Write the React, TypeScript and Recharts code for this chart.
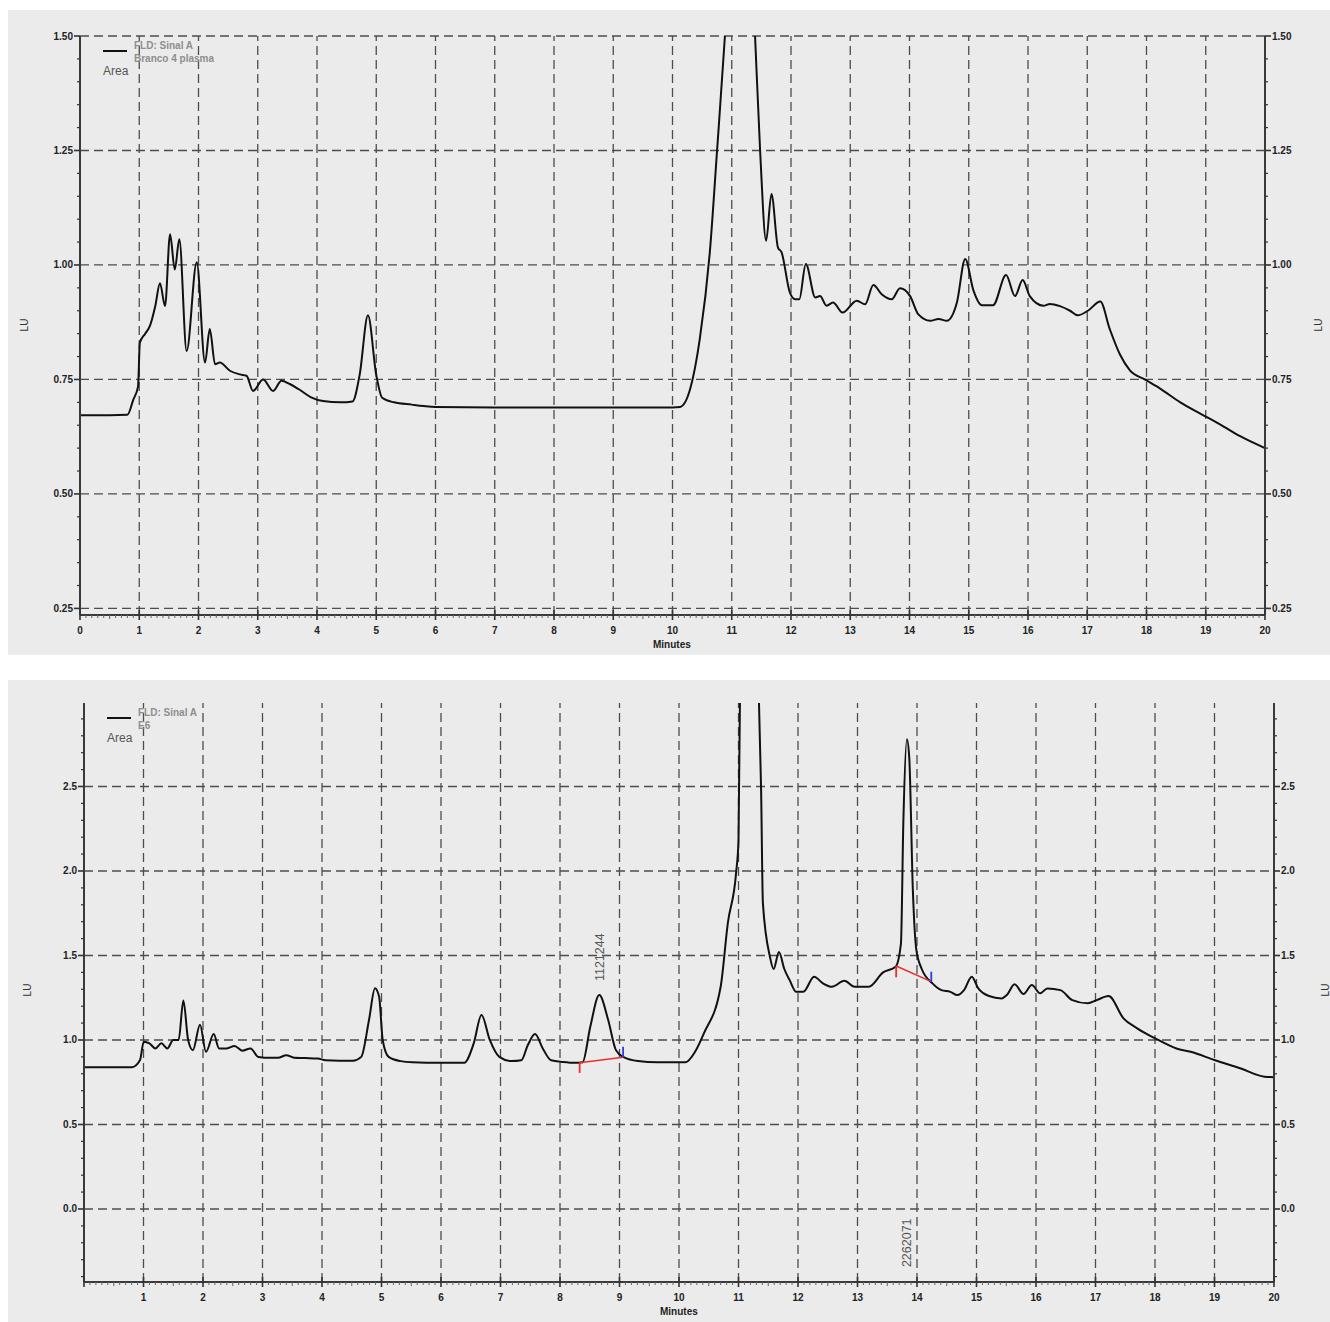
import { LineChart, Line, XAxis, YAxis, ReferenceLine, ReferenceDot } from 'recharts'

// Chromatogram 1: "Branco 4 plasma"
const topMinutes = [
  0, 0.5, 0.8, 0.9, 0.98, 1.01, 1.1, 1.18, 1.27, 1.35, 1.435, 1.52, 1.6, 1.676, 1.8, 1.97,
  2.11, 2.19, 2.28, 2.36, 2.53, 2.7, 2.81, 2.92, 3.09, 3.26, 3.4, 3.54, 3.7, 3.9, 4.1, 4.4,
  4.6, 4.72, 4.86, 5.0, 5.1, 5.3, 5.6, 5.8, 6.0, 7.0, 8.0, 9.0, 10.0, 10.13, 10.3, 10.46,
  10.63, 10.75, 10.89, 11.0, 11.15, 11.3, 11.39, 11.48, 11.58, 11.67, 11.78, 11.84, 11.98,
  12.07, 12.14, 12.25, 12.41, 12.49, 12.6, 12.71, 12.87, 13.11, 13.25, 13.39, 13.53, 13.7,
  13.84, 14.01, 14.15, 14.35, 14.49, 14.63, 14.8, 14.94, 15.08, 15.22, 15.41, 15.63, 15.78,
  15.91, 16.03, 16.26, 16.37, 16.54, 16.71, 16.84, 17.01, 17.22, 17.38, 17.55, 17.72, 17.97,
  18.23, 18.57, 18.9, 19.24, 19.58, 20.0,
]
const topLU = [
  0.672, 0.672, 0.673, 0.706, 0.735, 0.83, 0.85, 0.867, 0.91, 0.96, 0.91, 1.067, 0.99, 1.056, 0.812, 1.006,
  0.787, 0.86, 0.783, 0.787, 0.769, 0.761, 0.758, 0.725, 0.75, 0.725, 0.747, 0.74, 0.728, 0.711, 0.703, 0.7,
  0.702, 0.76, 0.89, 0.76, 0.71, 0.7, 0.695, 0.692, 0.69, 0.689, 0.689, 0.689, 0.689, 0.69, 0.73, 0.838,
  1.028, 1.246, 1.51, 1.75, 1.85, 1.75, 1.51, 1.246, 1.053, 1.155, 1.038, 1.028, 0.94,
  0.925, 0.925, 1.002, 0.929, 0.932, 0.911, 0.918, 0.896, 0.922, 0.914, 0.956, 0.936, 0.925,
  0.949, 0.932, 0.892, 0.878, 0.882, 0.878, 0.918, 1.013, 0.944, 0.912, 0.912, 0.978, 0.932,
  0.967, 0.932, 0.911, 0.915, 0.91, 0.9, 0.89, 0.9, 0.92, 0.86, 0.805, 0.77, 0.75,
  0.73, 0.7, 0.676, 0.652, 0.626, 0.6,
]

// Chromatogram 2: "E6"
const bottomMinutes = [
  0, 0.8, 0.94, 1.005, 1.1, 1.2, 1.3, 1.4, 1.5, 1.59, 1.67, 1.75, 1.83, 1.95, 2.05, 2.18,
  2.27, 2.4, 2.53, 2.66, 2.8, 2.93, 3.13, 3.26, 3.4, 3.53, 3.73, 3.93, 4.06, 4.52, 4.66,
  4.79, 4.89, 4.96, 5.02, 5.12, 5.32, 5.52, 5.99, 6.39, 6.55, 6.68, 6.82, 6.98, 7.18, 7.35,
  7.46, 7.58, 7.71, 7.85, 8.05, 8.25, 8.38, 8.51, 8.66, 8.81, 8.94, 9.07, 9.31, 9.64, 10.11,
  10.27, 10.42, 10.7, 10.82, 10.96, 11.0, 11.03, 11.18, 11.33, 11.38, 11.41, 11.53, 11.59,
  11.68, 11.77, 11.86, 11.97, 12.09, 12.27, 12.42, 12.57, 12.78, 12.95, 13.19, 13.43, 13.64,
  13.73, 13.77, 13.83, 13.87, 13.93, 13.99, 14.08, 14.26, 14.41, 14.56, 14.68, 14.79, 14.92,
  15.03, 15.21, 15.42, 15.51, 15.64, 15.79, 15.93, 16.07, 16.19, 16.41, 16.61, 16.87, 17.02,
  17.22, 17.47, 17.7, 18.0, 18.36, 18.6, 19.01, 19.43, 19.84, 20.0,
]
const bottomLU = [
  0.838, 0.838, 0.88, 0.99, 0.98, 0.95, 0.98, 0.95, 1.0, 1.0, 1.233, 1.0, 0.94, 1.09, 0.93, 1.035,
  0.95, 0.95, 0.965, 0.937, 0.95, 0.9, 0.895, 0.895, 0.91, 0.895, 0.893, 0.89, 0.88, 0.877, 0.9,
  1.118, 1.306, 1.256, 1.0, 0.9, 0.875, 0.868, 0.865, 0.865, 0.98, 1.148, 1.0, 0.9, 0.875, 0.88,
  0.97, 1.035, 0.95, 0.88, 0.87, 0.865, 0.868, 1.08, 1.266, 1.118, 0.94, 0.898, 0.875, 0.868, 0.868,
  0.93, 1.04, 1.315, 1.69, 1.99, 2.18, 3.2, 3.9, 3.2, 2.48, 1.81, 1.49, 1.42,
  1.52, 1.42, 1.354, 1.285, 1.285, 1.374, 1.335, 1.315, 1.35, 1.315, 1.315, 1.4, 1.433,
  1.57, 2.28, 2.78, 2.67, 1.89, 1.53, 1.42, 1.335, 1.295, 1.285, 1.266, 1.295, 1.374,
  1.305, 1.26, 1.246, 1.266, 1.33, 1.272, 1.325, 1.276, 1.305, 1.295, 1.236, 1.217, 1.236,
  1.26, 1.128, 1.069, 1.01, 0.95, 0.93, 0.88, 0.833, 0.783, 0.78,
]

const minuteTicks = [0, 1, 2, 3, 4, 5, 6, 7, 8, 9, 10, 11, 12, 13, 14, 15, 16, 17, 18, 19, 20]
const gridMinutes = minuteTicks.slice(1, -1)
const topLUTicks = [0.25, 0.5, 0.75, 1.0, 1.25, 1.5]
const bottomLUTicks = [0.0, 0.5, 1.0, 1.5, 2.0, 2.5]

// integrated peaks (baseline start/end) and area labels
const peakLabels = ['1121244', '2262071']
const peak1Base = [{ x: 8.33, y: 0.866 }, { x: 9.06, y: 0.898 }]
const peak2Base = [{ x: 13.65, y: 1.438 }, { x: 14.24, y: 1.345 }]

const topData = topMinutes.map((t, i) => ({ t, lu: topLU[i] }))
const bottomData = bottomMinutes.map((t, i) => ({ t, lu: bottomLU[i] }))

function steps(from: number, to: number, step: number) {
  const out: number[] = []
  const n = Math.round((to - from) / step)
  for (let i = 0; i <= n; i++) out.push(Math.round((from + i * step) * 1000) / 1000)
  return out
}

const minuteAllTicks = steps(0, 20, 0.1)
const topLUAll = steps(0.25, 1.5, 0.05)
const bottomLUAll = steps(-0.4, 2.9, 0.1)

const FONT = '"Liberation Sans", Arial, sans-serif'
const GRID = { stroke: '#4d4d4d', strokeWidth: 1.3, strokeDasharray: '9 5' }
const AXIS = { stroke: '#3a3a3a', strokeWidth: 2 }

function MinuteTick(props: any) {
  const { x, y, payload, hideZero } = props
  const v = payload.value
  const major = Math.abs(v - Math.round(v)) < 1e-6
  const half = !major && Math.abs(v * 2 - Math.round(v * 2)) < 1e-6
  if (major) {
    return (
      <g>
        <line x1={x} x2={x} y1={y - 5} y2={y + 5} stroke="#333" strokeWidth={1.6} />
        {!(hideZero && v === 0) && (
          <text x={x} y={y + 19} textAnchor="middle" fontFamily={FONT} fontSize={10} fontWeight="bold" fill="#222">
            {Math.round(v)}
          </text>
        )}
      </g>
    )
  }
  return <line x1={x} x2={x} y1={y} y2={y + (half ? 4 : 3)} stroke="#666" strokeWidth={1} />
}

function LUTick(props: any) {
  const { x, y, payload, side, majors, digits } = props
  const v = payload.value
  const major = majors.some((m: number) => Math.abs(m - v) < 1e-6)
  const s = side === 'left' ? -1 : 1
  return (
    <g>
      <line x1={x} x2={x + s * (major ? 6 : 3)} y1={y} y2={y} stroke="#333" strokeWidth={major ? 1.6 : 1.2} />
      {major && (
        <text x={x + s * 7} y={y + 3.5} textAnchor={side === 'left' ? 'end' : 'start'}
          fontFamily={FONT} fontSize={10} fontWeight="bold" fill="#222">
          {v.toFixed(digits)}
        </text>
      )}
    </g>
  )
}

function AreaLabel(props: any) {
  const { cx, cy, text } = props
  return (
    <text transform={`translate(${cx + 4.5},${cy}) rotate(-90)`} textAnchor="middle"
      fontFamily={FONT} fontSize={12.5} fill="#555">
      {text}
    </text>
  )
}

function Overlay({ left, top, children, style }: any) {
  return (
    <div style={{ position: 'absolute', left, top, fontFamily: FONT, whiteSpace: 'nowrap', lineHeight: 1, ...style }}>
      {children}
    </div>
  )
}

function Legend({ x, y, name }: { x: number; y: number; name: string }) {
  return (
    <>
      <div style={{ position: 'absolute', left: x, top: y, width: 24, height: 1.6, background: '#111' }} />
      <Overlay left={x + 31} top={y - 11} style={{ fontSize: 10, fontWeight: 'bold', color: '#8e8e8e', lineHeight: '13px' }}>
        FLD: Sinal A<br />{name}
      </Overlay>
      <Overlay left={x} top={y + 15} style={{ fontSize: 12, color: '#555' }}>Area</Overlay>
    </>
  )
}

function RotatedLU({ left, top }: { left: number; top: number }) {
  return (
    <Overlay left={left} top={top} style={{ fontSize: 10, color: '#333', transform: 'rotate(-90deg)', transformOrigin: 'center' }}>
      LU
    </Overlay>
  )
}

export default function App() {
  return (
    <div style={{ position: 'absolute', left: 0, top: 0, width: 1330, height: 1322, background: '#fff', overflow: 'hidden' }}>
      {/* Top chromatogram */}
      <div style={{ position: 'absolute', left: 8, top: 10, width: 1322, height: 645, background: '#ebebeb' }}>
        <LineChart width={1322} height={645} data={topData} margin={{ top: 26, right: 0, bottom: 0, left: 0 }}>
          <XAxis xAxisId="top" orientation="top" type="number" dataKey="t" domain={[0, 20]} height={0}
            tick={false} tickLine={false} axisLine={{ stroke: '#9a9a9a', strokeWidth: 1.5 }} />
          <XAxis type="number" dataKey="t" domain={[0, 20]} ticks={minuteAllTicks} interval={0} height={40}
            tickSize={0} tickMargin={0} tickLine={false} axisLine={AXIS} tick={<MinuteTick />} />
          <YAxis yAxisId="left" type="number" domain={[0.2356, 1.5]} allowDataOverflow width={72}
            ticks={topLUAll} interval={0} tickSize={0} tickMargin={0} tickLine={false} axisLine={AXIS}
            tick={<LUTick side="left" majors={topLUTicks} digits={2} />} />
          <YAxis yAxisId="right" orientation="right" type="number" domain={[0.2356, 1.5]} allowDataOverflow width={65}
            ticks={topLUAll} interval={0} tickSize={0} tickMargin={0} tickLine={false} axisLine={AXIS}
            tick={<LUTick side="right" majors={topLUTicks} digits={2} />} />
          {topLUTicks.map((v) => (
            <ReferenceLine key={`h${v}`} yAxisId="left" y={v} {...GRID} />
          ))}
          {gridMinutes.map((m) => (
            <ReferenceLine key={`v${m}`} yAxisId="left" x={m} {...GRID} />
          ))}
          <Line yAxisId="left" type="monotone" dataKey="lu" stroke="#111" strokeWidth={2} dot={false} isAnimationActive={false} />
        </LineChart>
      </div>
      <Legend x={103} y={50} name="Branco 4 plasma" />
      <RotatedLU left={19} top={320} />
      <RotatedLU left={1313} top={320} />
      <Overlay left={653} top={640} style={{ fontSize: 10, fontWeight: 'bold', color: '#222' }}>Minutes</Overlay>

      {/* Bottom chromatogram */}
      <div style={{ position: 'absolute', left: 8, top: 680, width: 1322, height: 642, background: '#ebebeb' }}>
        <LineChart width={1322} height={642} data={bottomData} margin={{ top: 23, right: 0, bottom: 0, left: 0 }}>
          <XAxis xAxisId="top" orientation="top" type="number" dataKey="t" domain={[0, 20]} height={0}
            tick={false} tickLine={false} axisLine={AXIS} />
          <XAxis type="number" dataKey="t" domain={[0, 20]} ticks={minuteAllTicks} interval={0} height={40}
            tickSize={0} tickMargin={0} tickLine={false} axisLine={AXIS} tick={<MinuteTick hideZero />} />
          <YAxis yAxisId="left" type="number" domain={[-0.432, 2.994]} allowDataOverflow width={76}
            ticks={bottomLUAll} interval={0} tickSize={0} tickMargin={0} tickLine={false} axisLine={AXIS}
            tick={<LUTick side="left" majors={bottomLUTicks} digits={1} />} />
          <YAxis yAxisId="right" orientation="right" type="number" domain={[-0.432, 2.994]} allowDataOverflow width={56}
            ticks={bottomLUAll} interval={0} tickSize={0} tickMargin={0} tickLine={false} axisLine={AXIS}
            tick={<LUTick side="right" majors={bottomLUTicks} digits={1} />} />
          {bottomLUTicks.map((v) => (
            <ReferenceLine key={`h${v}`} yAxisId="left" y={v} {...GRID} />
          ))}
          {gridMinutes.map((m) => (
            <ReferenceLine key={`v${m}`} yAxisId="left" x={m} {...GRID} />
          ))}
          <Line yAxisId="left" type="monotone" dataKey="lu" stroke="#111" strokeWidth={2} dot={false} isAnimationActive={false} />
          {/* peak 1 integration marks */}
          <ReferenceLine yAxisId="left" segment={peak1Base} stroke="#e8302c" strokeWidth={1.5} />
          <ReferenceLine yAxisId="left" segment={[peak1Base[0], { x: peak1Base[0].x, y: 0.805 }]} stroke="#e8302c" strokeWidth={1.8} />
          <ReferenceLine yAxisId="left" segment={[peak1Base[1], { x: peak1Base[1].x, y: 0.96 }]} stroke="#2c3ce0" strokeWidth={1.8} />
          {/* peak 2 integration marks */}
          <ReferenceLine yAxisId="left" segment={peak2Base} stroke="#e8302c" strokeWidth={1.5} />
          <ReferenceLine yAxisId="left" segment={[peak2Base[0], { x: peak2Base[0].x, y: 1.371 }]} stroke="#e8302c" strokeWidth={1.8} />
          <ReferenceLine yAxisId="left" segment={[peak2Base[1], { x: peak2Base[1].x, y: 1.404 }]} stroke="#2c3ce0" strokeWidth={1.8} />
          <ReferenceDot yAxisId="left" x={8.66} y={1.49} r={1}
            shape={(p: any) => <AreaLabel {...p} text={peakLabels[0]} />} />
          <ReferenceDot yAxisId="left" x={13.83} y={-0.2} r={1}
            shape={(p: any) => <AreaLabel {...p} text={peakLabels[1]} />} />
        </LineChart>
      </div>
      <Legend x={107} y={717} name="E6" />
      <RotatedLU left={22} top={985} />
      <RotatedLU left={1320} top={985} />
      <Overlay left={660} top={1307} style={{ fontSize: 10, fontWeight: 'bold', color: '#222' }}>Minutes</Overlay>
    </div>
  )
}
